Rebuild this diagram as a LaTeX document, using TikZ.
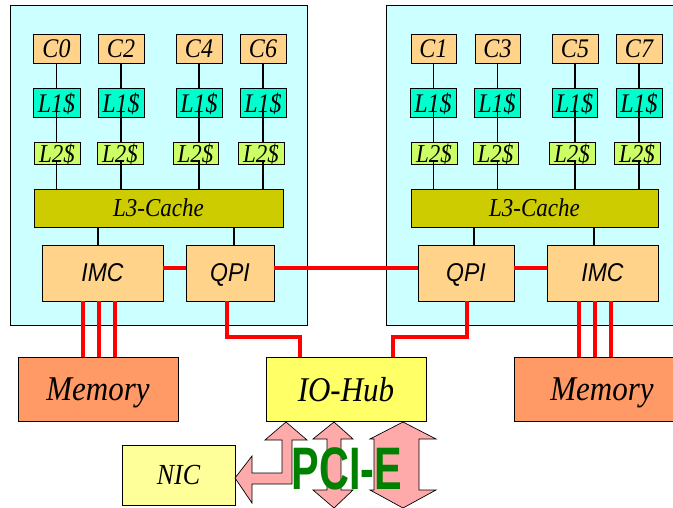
\documentclass[tikz,border=0pt]{standalone}
\usepackage{fontspec}
\usepackage{graphicx}
\setmainfont{Liberation Serif}
\setsansfont{Liberation Sans}
\usetikzlibrary{calc,shadows}
\definecolor{sockcol}{HTML}{CCFFFF}
\definecolor{corecol}{HTML}{FFD48A}
\definecolor{lonecol}{HTML}{00FFCC}
\definecolor{ltwocol}{HTML}{CCFF66}
\definecolor{lthreecol}{HTML}{CCCC00}
\definecolor{memcol}{HTML}{FF9966}
\definecolor{hubcol}{HTML}{FFFF66}
\definecolor{niccol}{HTML}{FFFF99}
\definecolor{arrcol}{HTML}{FFAAAA}
\definecolor{pcicol}{HTML}{008000}
\newcommand\tx[1]{\scalebox{1}[1.12]{#1}}
\newcommand\rbx[7]{\node[#6, minimum width={(#4-#2)*1pt}, minimum height={(#5-#3)*1pt}] (#1) at ({(#2+#4)/2},{(#3+#5)/2}) {\tx{#7}};}
\tikzset{
  base/.style={draw=black, line width=0.8pt, inner sep=0pt, outer sep=0pt, text depth=0pt,
    drop shadow={shadow xshift=1.2pt, shadow yshift=-1.2pt, fill=black!35, opacity=1}},
  socket/.style={base, fill=sockcol},
  core/.style={base, fill=corecol, font=\itshape\fontsize{24}{24}\selectfont},
  lone/.style={base, fill=lonecol, font=\itshape\fontsize{24}{24}\selectfont},
  ltwo/.style={base, fill=ltwocol, font=\itshape\fontsize{23}{23}\selectfont},
  lthree/.style={base, fill=lthreecol, font=\itshape\fontsize{23}{23}\selectfont},
  ctrl/.style={base, fill=corecol, font=\sffamily\itshape\fontsize{23}{23}\selectfont},
  memory/.style={base, fill=memcol, font=\itshape\fontsize{31}{31}\selectfont},
  hubbox/.style={base, fill=hubcol, font=\itshape\fontsize{31}{31}\selectfont},
  nicbox/.style={base, fill=niccol, font=\itshape\fontsize{26}{26}\selectfont},
  wire/.style={draw=black, line width=1.3pt},
  bus/.style={draw=red, line width=3.5pt},
  blockarrow/.style={draw=black, line width=0.7pt, fill=arrcol, line join=miter},
}
\begin{document}
\begin{tikzpicture}[x=1pt,y=-1pt]
\useasboundingbox (0,0) rectangle (673,508);
\clip (0,0) rectangle (673,508);
% sockets
\rbx{sockL}{10}{5}{307}{325}{socket}{}
\rbx{sockR}{386}{5}{690}{325}{socket}{}
% left socket
\rbx{c0}{33}{34}{80}{63}{core}{C0}
\rbx{c2}{98}{34}{144}{63}{core}{C2}
\rbx{c4}{176}{34}{222}{63}{core}{C4}
\rbx{c6}{240}{34}{286}{63}{core}{C6}
\rbx{l1a}{33}{88}{80}{117}{lone}{L1\$}
\rbx{l1b}{98}{88}{144}{117}{lone}{L1\$}
\rbx{l1c}{176}{88}{222}{117}{lone}{L1\$}
\rbx{l1d}{240}{88}{286}{117}{lone}{L1\$}
\rbx{l2a}{34}{142}{80}{164}{ltwo}{L2\$}
\rbx{l2b}{97}{142}{143}{164}{ltwo}{L2\$}
\rbx{l2c}{173}{142}{218}{164}{ltwo}{L2\$}
\rbx{l2d}{238}{142}{284}{164}{ltwo}{L2\$}
\rbx{l3L}{34}{189}{283}{227}{lthree}{L3-Cache}
\rbx{imcL}{42}{245}{163}{301}{ctrl}{IMC}
\rbx{qpiL}{186}{245}{274}{301}{ctrl}{QPI}
% right socket
\rbx{c1}{411}{34}{456}{63}{core}{C1}
\rbx{c3}{475}{34}{520}{63}{core}{C3}
\rbx{c5}{552}{34}{598}{63}{core}{C5}
\rbx{c7}{616}{34}{662}{63}{core}{C7}
\rbx{l1e}{410}{88}{456}{117}{lone}{L1\$}
\rbx{l1f}{474}{88}{520}{117}{lone}{L1\$}
\rbx{l1g}{552}{88}{597}{117}{lone}{L1\$}
\rbx{l1h}{616}{88}{662}{117}{lone}{L1\$}
\rbx{l2e}{411}{142}{457}{164}{ltwo}{L2\$}
\rbx{l2f}{473}{142}{518}{164}{ltwo}{L2\$}
\rbx{l2g}{549}{142}{595}{164}{ltwo}{L2\$}
\rbx{l2h}{614}{142}{660}{164}{ltwo}{L2\$}
\rbx{l3R}{411}{189}{658}{227}{lthree}{L3-Cache}
\rbx{qpiR}{418}{245}{514}{301}{ctrl}{QPI}
\rbx{imcR}{547}{245}{658}{301}{ctrl}{IMC}
% lower boxes
\rbx{memL}{18}{357}{178}{421}{memory}{Memory}
\rbx{hub}{266}{357}{426}{421}{hubbox}{IO-Hub}
\rbx{memR}{514}{357}{690}{421}{memory}{Memory}
\rbx{nic}{122}{445}{235}{505}{nicbox}{NIC}
% core columns
\foreach \c/\a/\b/\t/\w in {c0/l1a/l2a/l3L/1.2, c2/l1b/l2b/l3L/1.2, c4/l1c/l2c/l3L/1.7, c6/l1d/l2d/l3L/1.7,
                            c1/l1e/l2e/l3R/1.2, c3/l1f/l2f/l3R/1.2, c5/l1g/l2g/l3R/1.7, c7/l1h/l2h/l3R/1.7}{
  \draw[wire, line width=\w pt] (\c.south) -- (\c.south |- \a.north);
  \draw[wire, line width=\w pt] ($(\c.south |- \a.south)+(0,-7)$) -- (\c.south |- \b.north);
  \draw[wire, line width=\w pt] ($(\c.south |- \b.south)+(0,-4)$) -- (\c.south |- \t.north);
}
% L3 to IMC / QPI
\coordinate (ka) at ($(imcL.north)+(-4.5,0)$);
\coordinate (kb) at ($(qpiL.north)+(4,0)$);
\coordinate (kc) at ($(qpiR.north)+(8,0)$);
\coordinate (kd) at ($(imcR.north)+(-8.5,0)$);
\draw[wire, line width=1.6pt] (ka) -- (ka |- l3L.south);
\draw[wire, line width=1.6pt] (kb) -- (kb |- l3L.south);
\draw[wire, line width=1.6pt] (kc) -- (kc |- l3R.south);
\draw[wire, line width=1.6pt] (kd) -- (kd |- l3R.south);
% red links
\coordinate (ra) at ($(imcL.east)+(0,-5)$);
\coordinate (rb) at ($(qpiL.east)+(0,-5)$);
\coordinate (rc) at ($(qpiR.east)+(0,-5)$);
\draw[bus] (ra) -- (ra -| qpiL.west);
\draw[bus] (rb) -- (rb -| qpiR.west);
\draw[bus] (rc) -- (rc -| imcR.west);
\foreach \s in {-19.5,-3.5,12.5}{
  \coordinate (m) at ($(imcL.south)+(\s,0)$);
  \draw[bus] (m) -- (m |- memL.north);
}
\foreach \s in {-23.5,-7.5,8.5}{
  \coordinate (m) at ($(imcR.south)+(\s,0)$);
  \draw[bus] (m) -- (m |- memR.north);
}
\coordinate (ha) at ($(qpiL.south)+(-3,0)$);
\coordinate (hb) at ($(hub.north)+(-46,0)$);
\coordinate (hc) at ($(qpiR.south)+(1,0)$);
\coordinate (hd) at ($(hub.north)+(47,0)$);
\draw[bus, line join=miter] (ha) |- ($(hb)+(0,-20)$) -- (hb);
\draw[bus, line join=miter] (hc) |- ($(hd)+(0,-20)$) -- (hd);
% PCI-E block arrows
\draw[blockarrow] (286,422) -- (307,440) -- (292,440) -- (292,484) -- (252,484) -- (252,503)
  -- (235,478) -- (252,456) -- (252,473) -- (282,473) -- (282,440) -- (265,440) -- cycle;
\draw[blockarrow] (334,422) -- (353,439) -- (341,439) -- (341,490) -- (353,490) -- (334,508)
  -- (313,490) -- (327,490) -- (327,439) -- (313,439) -- cycle;
\draw[blockarrow] (403,422) -- (436,439) -- (419,439) -- (419,490) -- (436,490) -- (403,508)
  -- (370,490) -- (374,490) -- (374,439) -- (370,439) -- cycle;
\node[text=pcicol, font=\sffamily\bfseries\fontsize{60}{60}\selectfont, xscale=0.69, inner sep=0pt, anchor=base] (pcie) at (347,489) {PCI-E};
\end{tikzpicture}
\end{document}
